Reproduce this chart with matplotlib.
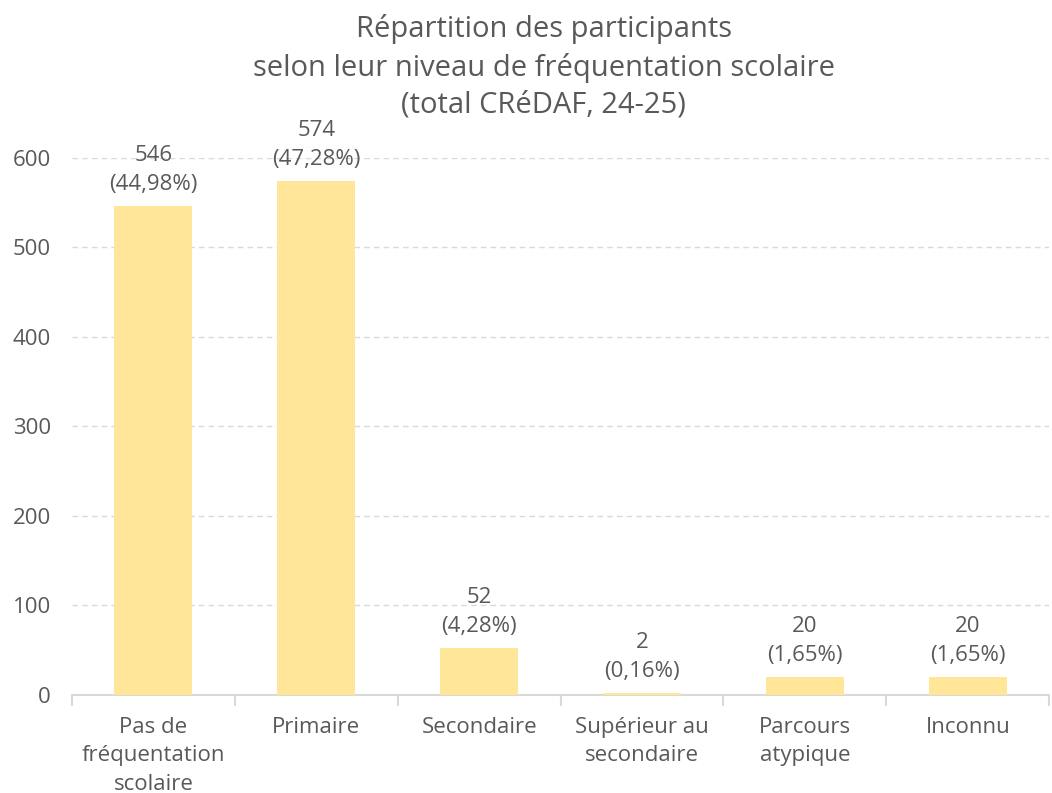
import matplotlib
matplotlib.use("Agg")
import matplotlib.pyplot as plt
import numpy as np

categories = ["Pas de\nfréquentation\nscolaire", "Primaire", "Secondaire",
              "Supérieur au\nsecondaire", "Parcours\natypique", "Inconnu"]
values = [546, 574, 52, 2, 20, 20]
percents = ["44,98%", "47,28%", "4,28%", "0,16%", "1,65%", "1,65%"]
yticks = [0, 100, 200, 300, 400, 500, 600]

plt.rcParams['font.family'] = ['Open Sans', 'DejaVu Sans']
txt = "#595959"

fig = plt.figure(figsize=(10.52, 7.93), dpi=100)
ax = fig.add_axes([0.0684, 0.1236, 0.929, 0.6772])

x = np.arange(len(categories))
ax.bar(x, values, width=0.48, color="#FFE699", zorder=3)

for xi, v, p in zip(x, values, percents):
    ax.annotate(f"{v}\n({p})", (xi, v), xytext=(0, 8), textcoords="offset points",
                ha="center", va="bottom", fontsize=16, color=txt,
                linespacing=1.5, annotation_clip=False)

ax.set_xlim(-0.5, len(categories) - 0.5)
ax.set_ylim(0, 600)
ax.set_yticks(yticks)
ax.set_yticklabels([str(t) for t in yticks], fontsize=16, color=txt)
ax.set_xticks(x)
ax.set_xticklabels(categories, fontsize=16, color=txt, linespacing=1.45)
ax.set_xticks(np.arange(-0.5, len(categories)), minor=True)
ax.tick_params(axis="x", which="major", length=0, pad=16)
ax.tick_params(axis="x", which="minor", length=8, color="#D9D9D9", width=1.5)
ax.tick_params(axis="y", length=0, pad=15)

ax.yaxis.grid(True, color="#D9D9D9", linestyle=(0, (4, 3)), linewidth=1, zorder=0)
for s in ["top", "right", "left"]:
    ax.spines[s].set_visible(False)
ax.spines["bottom"].set_color("#D9D9D9")
ax.spines["bottom"].set_linewidth(1.5)

fig.text(0.517, 0.982, "Répartition des participants\nselon leur niveau de fréquentation scolaire\n(total CRéDAF, 24-25)",
         ha="center", va="top", fontsize=21, color=txt, linespacing=1.37)

fig.savefig("out.png", dpi=100)
